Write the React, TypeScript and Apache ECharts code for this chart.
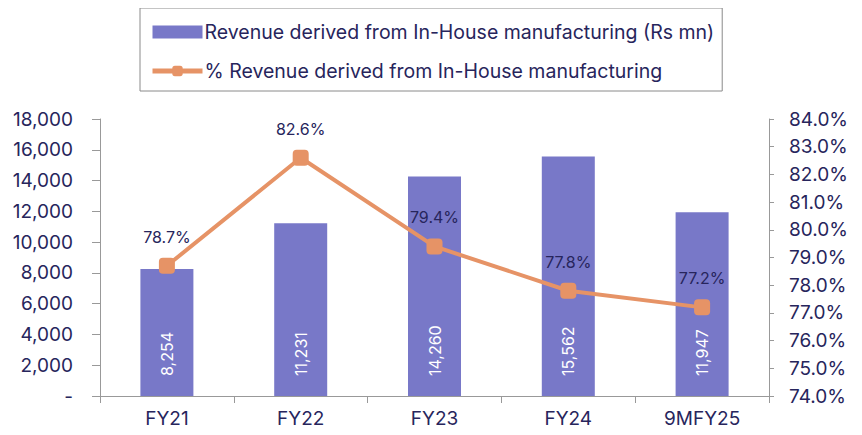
import React, { useEffect, useRef } from "react";
import * as echarts from "echarts";

const categories = ["FY21", "FY22", "FY23", "FY24", "9MFY25"];
const revenue = [8254, 11231, 14260, 15562, 11947];
const revenuePct = [78.7, 82.6, 79.4, 77.8, 77.2];

const TEXT = "#27255C";
const FONT = "Inter";

export default function App() {
  const ref = useRef<HTMLDivElement>(null);
  useEffect(() => {
    if (!ref.current) return;
    const chart = echarts.init(ref.current, null, { renderer: "svg" });
    chart.setOption({
      animation: false,
      textStyle: { fontFamily: FONT, color: TEXT },
      legend: {
        orient: "vertical",
        left: 140,
        top: 8,
        padding: [14, 8, 10, 10],
        borderColor: "#8a8a8a",
        borderWidth: 1,
        itemWidth: 50,
        itemHeight: 13,
        itemGap: 19,
        textStyle: { fontFamily: FONT, color: TEXT, fontSize: 19.5, padding: [0, 0, 0, -3] },
        data: [
          { name: "Revenue derived from In-House manufacturing (Rs mn)", icon: "rect" },
          { name: "% Revenue derived from In-House manufacturing", lineStyle: { width: 5 } },
        ],
      },
      grid: { left: 100, right: 93, top: 119, bottom: 39 },
      xAxis: {
        type: "category",
        data: categories,
        axisLine: { lineStyle: { color: "#999999" } },
        axisTick: { show: true, length: 7, lineStyle: { color: "#999999" } },
        axisLabel: { color: TEXT, fontSize: 19, fontFamily: FONT, margin: 13 },
      },
      yAxis: [
        {
          type: "value",
          min: 0,
          max: 18000,
          interval: 2000,
          splitLine: { show: false },
          axisLine: { show: true, lineStyle: { color: "#999999" } },
          axisTick: { show: true, length: 8, lineStyle: { color: "#999999" } },
          axisLabel: {
            color: TEXT,
            fontSize: 19,
            fontFamily: FONT,
            margin: 27,
            formatter: (v: number) => (v === 0 ? "-" : v.toLocaleString("en-US")),
          },
        },
        {
          type: "value",
          min: 74,
          max: 84,
          interval: 1,
          position: "right",
          splitLine: { show: false },
          axisLine: { show: true, lineStyle: { color: "#999999" } },
          axisTick: { show: true, length: 5, lineStyle: { color: "#999999" } },
          axisLabel: {
            color: TEXT,
            fontSize: 19,
            fontFamily: FONT,
            margin: 20,
            formatter: (v: number) => v.toFixed(1) + "%",
          },
        },
      ],
      series: [
        {
          name: "Revenue derived from In-House manufacturing (Rs mn)",
          type: "bar",
          data: revenue,
          barWidth: 53,
          itemStyle: { color: "#7878C8" },
          label: {
            show: true,
            position: "insideBottom",
            rotate: 90,
            align: "left",
            verticalAlign: "middle",
            distance: 20,
            color: "#ffffff",
            fontSize: 16,
            fontFamily: FONT,
            formatter: (p: any) => Number(p.value).toLocaleString("en-US"),
          },
        },
        {
          name: "% Revenue derived from In-House manufacturing",
          type: "line",
          yAxisIndex: 1,
          data: revenuePct,
          symbol: "roundRect",
          symbolSize: 16,
          lineStyle: { color: "#E69366", width: 4 },
          itemStyle: { color: "#E69366" },
          label: {
            show: true,
            position: "top",
            distance: 13,
            color: TEXT,
            fontSize: 16,
            fontFamily: FONT,
            formatter: (p: any) => Number(p.value).toFixed(1) + "%",
          },
        },
      ],
    });
    return () => chart.dispose();
  }, []);
  return <div ref={ref} style={{ width: 862, height: 435, margin: -8 }} />;
}
